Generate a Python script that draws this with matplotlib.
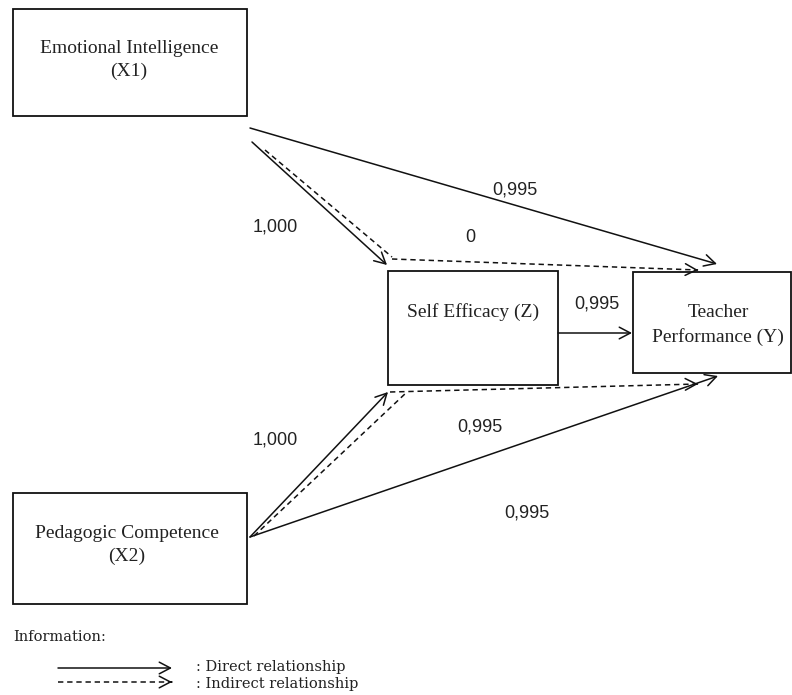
import numpy as np
import matplotlib
matplotlib.use("Agg")
import matplotlib.pyplot as plt
from matplotlib.patches import Rectangle

# 路径图数据
node_names = ["Emotional Intelligence\n(X1)", "Pedagogic Competence\n(X2)",
              "Self Efficacy (Z)", "Teacher\nPerformance (Y)"]
coef_labels = ["0,995", "1,000", "0", "0,995", "1,000", "0,995", "0,995"]
legend_title = "Information:"
legend_labels = [": Direct relationship", ": Indirect relationship"]

plt.rcParams["font.family"] = ["Liberation Serif", "DejaVu Serif"]

fig = plt.figure(figsize=(7.92, 6.95), dpi=100)
ax = fig.add_axes([0, 0, 1, 1])
ax.set_xlim(0, 792)
ax.set_ylim(695, 0)
ax.axis("off")

# 方框 (x0, y0, x1, y1)
boxes = [(13, 9, 247, 116), (13, 493, 247, 604),
         (388, 271, 558, 385), (633, 272, 791, 373)]
text_pos = [(129, 60), (127, 545), (473, 312), (718, 325)]
for (x0, y0, x1, y1), name, (tx, ty) in zip(boxes, node_names, text_pos):
    ax.add_patch(Rectangle((x0, y0), x1 - x0, y1 - y0, fill=False,
                           lw=1.3, ec="#111111"))
    ax.text(tx, ty, name, ha="center", va="center", fontsize=14,
            linespacing=1.45, color="#222222")

HEAD = "->,head_length=0.8,head_width=0.42"
DASH = (0, (3.5, 2.5))


def arrow(p0, p1):
    ax.annotate("", xy=p1, xytext=p0,
                arrowprops=dict(arrowstyle=HEAD, lw=1.1, color="#111111",
                                shrinkA=0, shrinkB=0))


def dashed_line(p0, p1):
    ax.plot([p0[0], p1[0]], [p0[1], p1[1]], color="#111111", lw=1.1, ls=DASH)


def dashed_arrow(p0, p1):
    # 虚线本体 + 实线箭头
    dashed_line(p0, p1)
    d = np.array(p1, float) - np.array(p0, float)
    d = d / np.hypot(*d)
    arrow(tuple(np.array(p1) - d * 0.5), p1)


# 直接关系
arrow((250, 128), (717, 264))
arrow((252, 142), (387, 265))
arrow((558, 333), (632, 333))
arrow((250, 537), (388, 392))
arrow((250, 537), (718, 376))

# 间接关系
dashed_line((265, 150), (392, 257))
dashed_arrow((392, 259), (698, 270))
dashed_line((254, 536), (407, 392))
dashed_arrow((390, 392), (698, 384))

# 系数
coef_pos = [(515, 190), (275, 227), (470, 238), (597, 304),
            (275, 440), (480, 427), (527, 513)]
for (x, y), lab in zip(coef_pos, coef_labels):
    ax.text(x, y, lab, ha="center", va="center", fontsize=13,
            family=["Liberation Sans", "DejaVu Sans"], color="#222222")

# 图例
leg_font = dict(fontsize=10.5, family=["DejaVu Serif"], color="#222222",
                va="center", ha="left")
ax.text(13, 637, legend_title, **leg_font)
arrow((58, 668), (172, 668))
dashed_arrow((58, 682), (172, 682))
ax.text(196, 667, legend_labels[0], **leg_font)
ax.text(196, 684, legend_labels[1], **leg_font)

fig.savefig("out.png", dpi=100)
plt.close(fig)
